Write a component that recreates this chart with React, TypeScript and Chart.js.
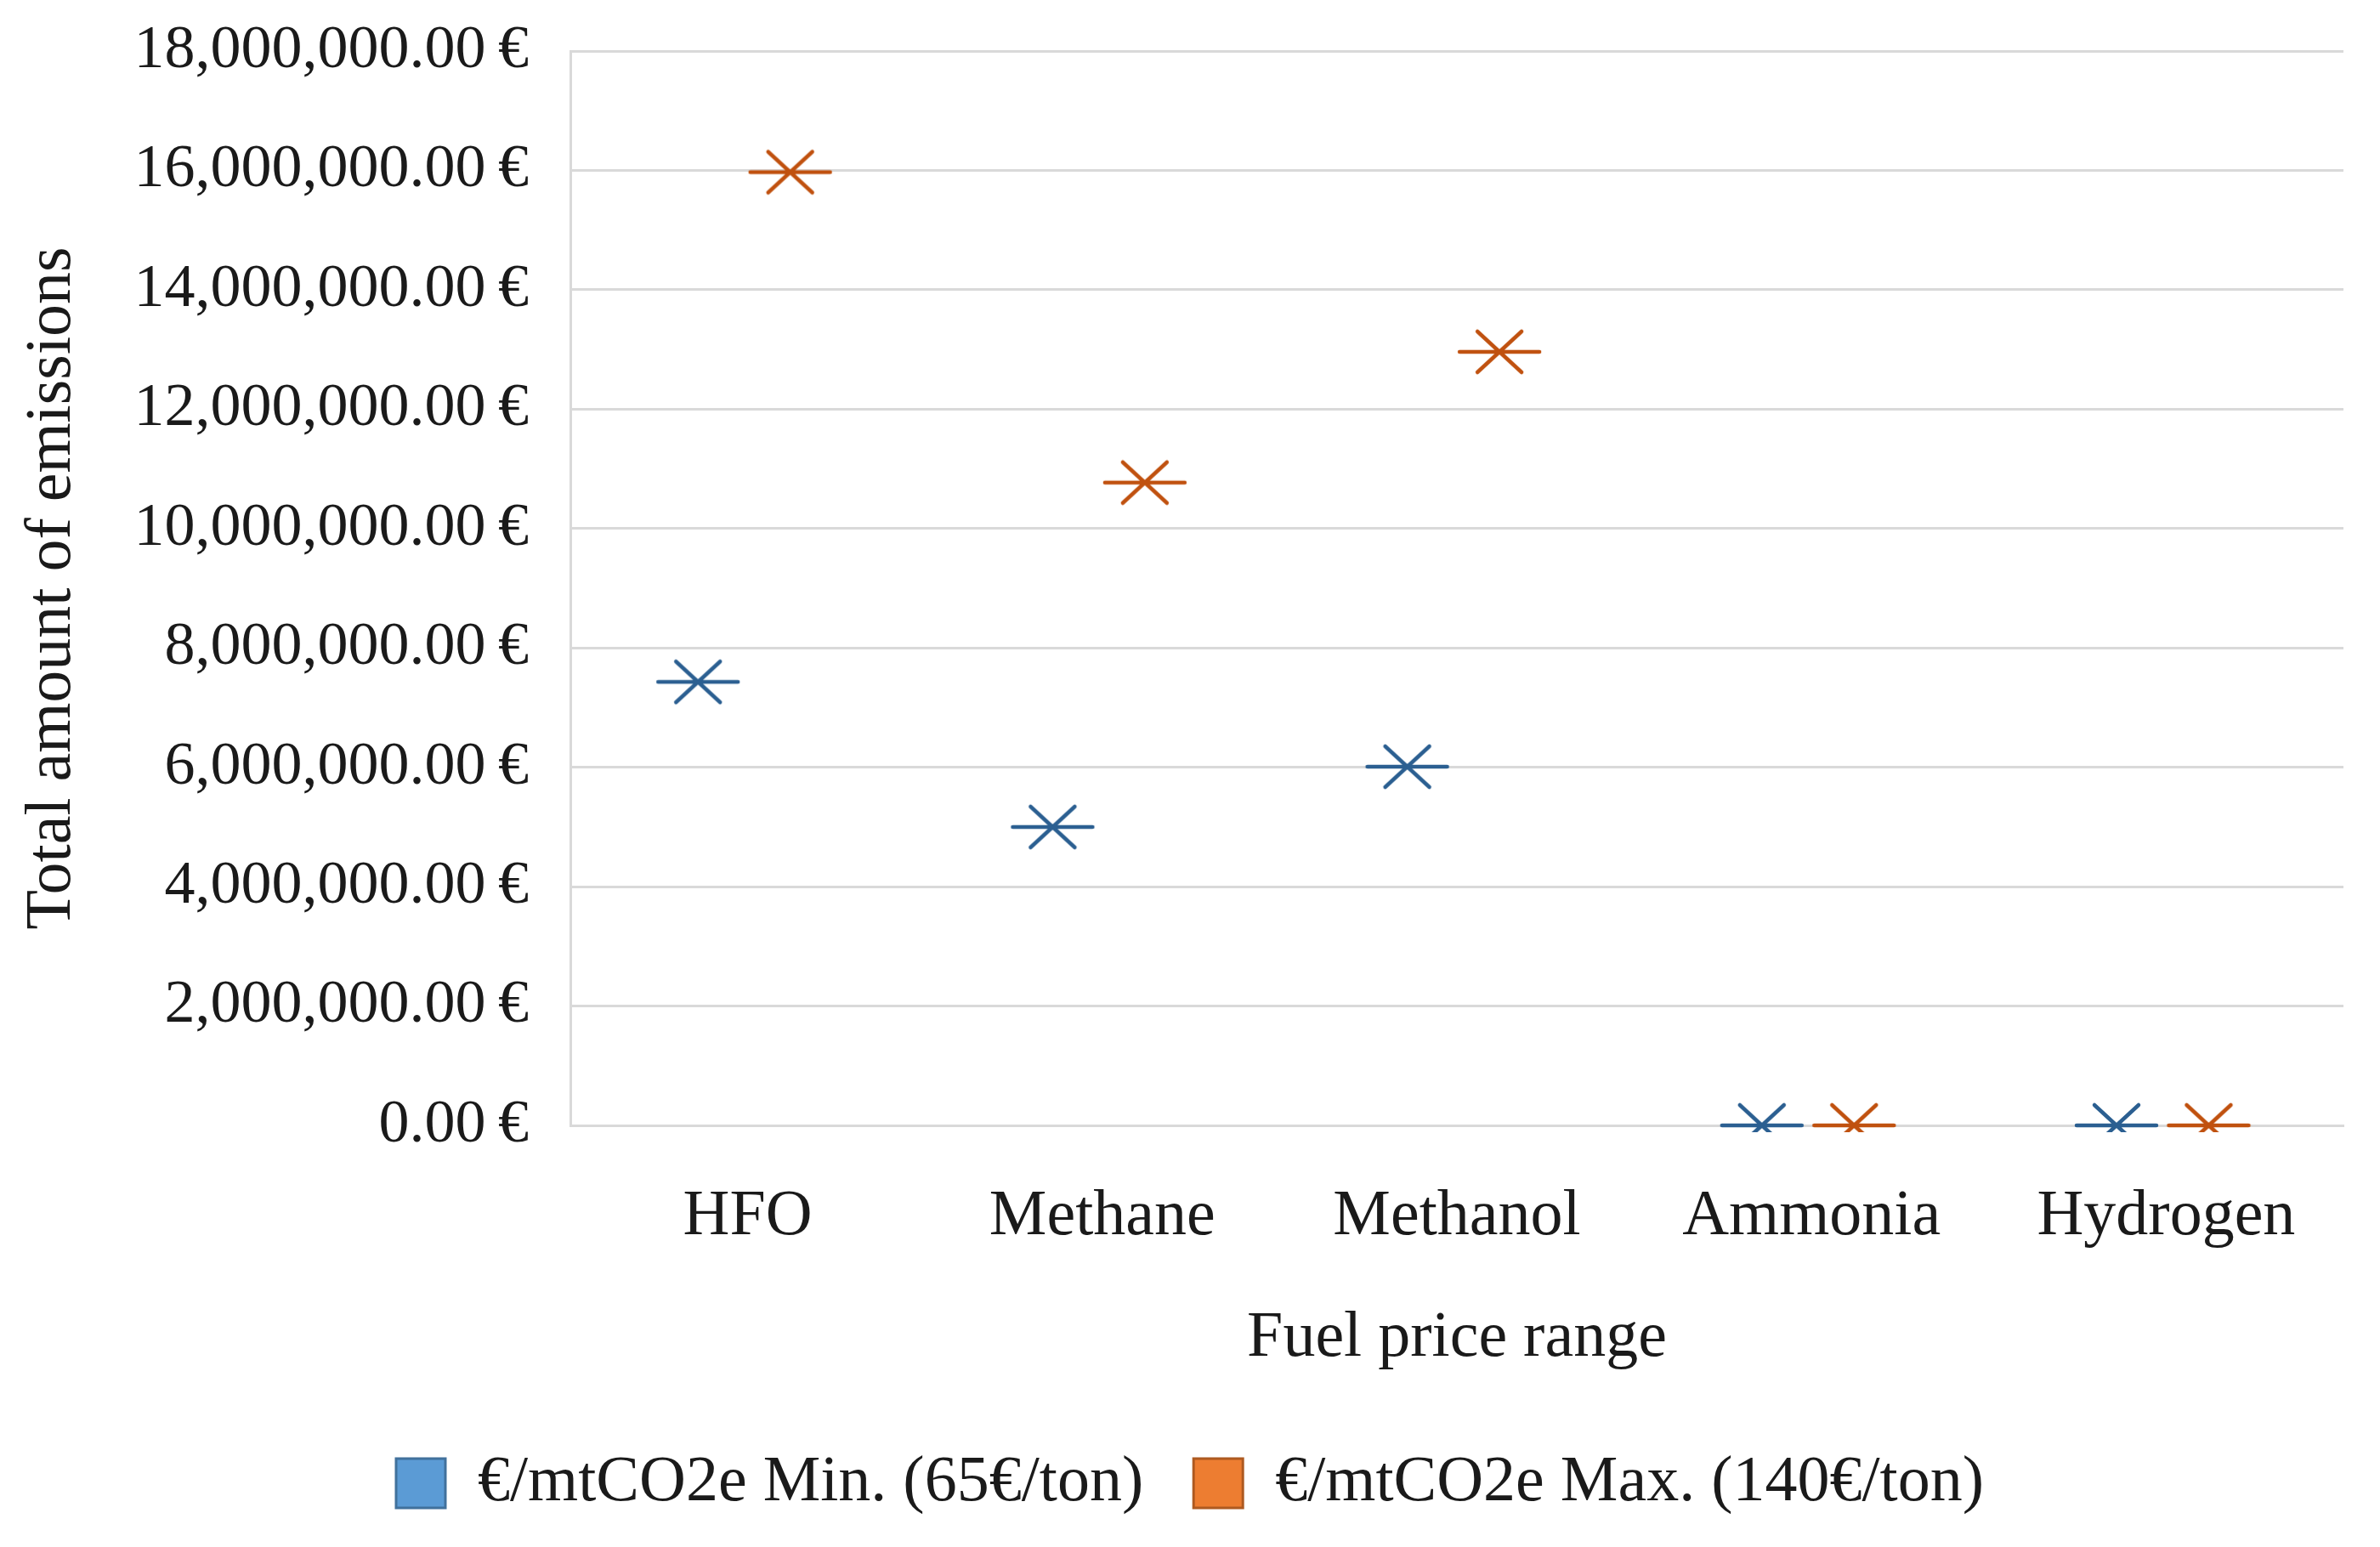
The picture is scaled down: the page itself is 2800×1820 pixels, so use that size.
import React, { useEffect, useRef } from "react";
import { Chart, registerables } from "chart.js";

Chart.register(...registerables);

// ---- data ----
const categories = ["HFO", "Methane", "Methanol", "Ammonia", "Hydrogen"];
const minSeries = [7430000, 5000000, 6010000, 0, 0];
const maxSeries = [15970000, 10770000, 12960000, 0, 0];
const seriesNames = ["€/mtCO2e Min. (65€/ton)", "€/mtCO2e Max. (140€/ton)"];
const yMax = 18000000;
const yStep = 2000000;

// ---- styles ----
const FONT = "'Liberation Serif', 'Times New Roman', serif";
const TEXT = "#1a1a1a";
const GRID = "#d9d9d9";
const markerColors = ["#2b5f91", "#c0510f"];
const legendFill = ["#5b9bd5", "#ed7d31"];
const legendStroke = ["#41719c", "#ae5a21"];
const seriesShift = [-0.14, 0.12];

function makeStar(color: string): HTMLCanvasElement {
  const c = document.createElement("canvas");
  c.width = 104;
  c.height = 64;
  const g = c.getContext("2d")!;
  g.strokeStyle = color;
  g.lineWidth = 4.5;
  g.lineCap = "round";
  const cx = 52, cy = 32;
  g.beginPath();
  g.moveTo(cx - 47, cy);
  g.lineTo(cx + 47, cy);
  g.moveTo(cx - 26, cy - 24);
  g.lineTo(cx + 26, cy + 24);
  g.moveTo(cx - 26, cy + 24);
  g.lineTo(cx + 26, cy - 24);
  g.stroke();
  return c;
}

function fmt(v: number): string {
  return (
    v.toLocaleString("en-US", { minimumFractionDigits: 2, maximumFractionDigits: 2 }) +
    "\u2009€"
  );
}

export default function App() {
  const ref = useRef<HTMLCanvasElement | null>(null);

  useEffect(() => {
    document.body.style.margin = "0";
    const canvas = ref.current;
    if (!canvas) return;
    const series = [minSeries, maxSeries];
    const chart = new Chart(canvas, {
      type: "scatter",
      data: {
        datasets: series.map((s, k) => ({
          label: seriesNames[k],
          data: s.map((v, i) => ({ x: i + seriesShift[k], y: v })),
          pointStyle: makeStar(markerColors[k]) as any,
          borderColor: markerColors[k],
          backgroundColor: markerColors[k],
          showLine: false,
          clip: { left: 200, right: 200, top: 200, bottom: 8 } as any,
        })),
      },
      options: {
        responsive: false,
        animation: false,
        devicePixelRatio: 1,
        layout: { padding: { left: 0, right: 0, top: 60, bottom: 27 } },
        plugins: {
          tooltip: { enabled: false },
          legend: {
            position: "bottom",
            labels: {
              font: { family: FONT, size: 76 },
              color: TEXT,
              boxWidth: 58,
              boxHeight: 58,
              padding: 59,
              generateLabels: () =>
                seriesNames.map((n, k) => ({
                  text: n,
                  fillStyle: legendFill[k],
                  strokeStyle: legendStroke[k],
                  lineWidth: 3,
                  hidden: false,
                  datasetIndex: k,
                  fontColor: TEXT,
                })),
            },
          },
        },
        scales: {
          x: {
            type: "linear",
            min: -0.5,
            max: 4.5,
            z: 1,
            afterBuildTicks: (s: any) => {
              s.ticks = categories.map((_, i) => ({ value: i }));
            },
            afterFit: (s: any) => {
              s.height = 324;
              s.paddingLeft = 0;
              s.paddingRight = 43;
            },
            ticks: {
              callback: (v: any) => categories[Math.round(Number(v))] ?? "",
              font: { family: FONT, size: 76 },
              color: TEXT,
              padding: 62,
              maxRotation: 0,
              autoSkip: false,
            },
            grid: { display: false, drawTicks: false },
            border: { display: true, color: GRID, width: 3 },
            title: {
              display: true,
              text: "Fuel price range",
              font: { family: FONT, size: 76 },
              color: TEXT,
              padding: { top: 0, bottom: 27 },
            },
          },
          y: {
            min: 0,
            max: yMax,
            afterFit: (s: any) => {
              s.width = 671;
              s.paddingTop = 0;
              s.paddingBottom = 0;
            },
            ticks: {
              stepSize: yStep,
              callback: (v: any) => fmt(Number(v)),
              font: { family: FONT, size: 72 },
              color: TEXT,
              padding: 49,
            },
            grid: { color: GRID, lineWidth: 3, drawTicks: false },
            border: { display: true, color: GRID, width: 3 },
            title: {
              display: true,
              text: "Total amount of emissions",
              font: { family: FONT, size: 76 },
              color: TEXT,
              padding: { top: 16, bottom: 0 },
            },
          },
        },
      } as any,
    });
    return () => chart.destroy();
  }, []);

  return (
    <div style={{ width: 2800, height: 1820, background: "#fff" }}>
      <canvas ref={ref} width={2800} height={1820} style={{ display: "block" }} />
    </div>
  );
}
